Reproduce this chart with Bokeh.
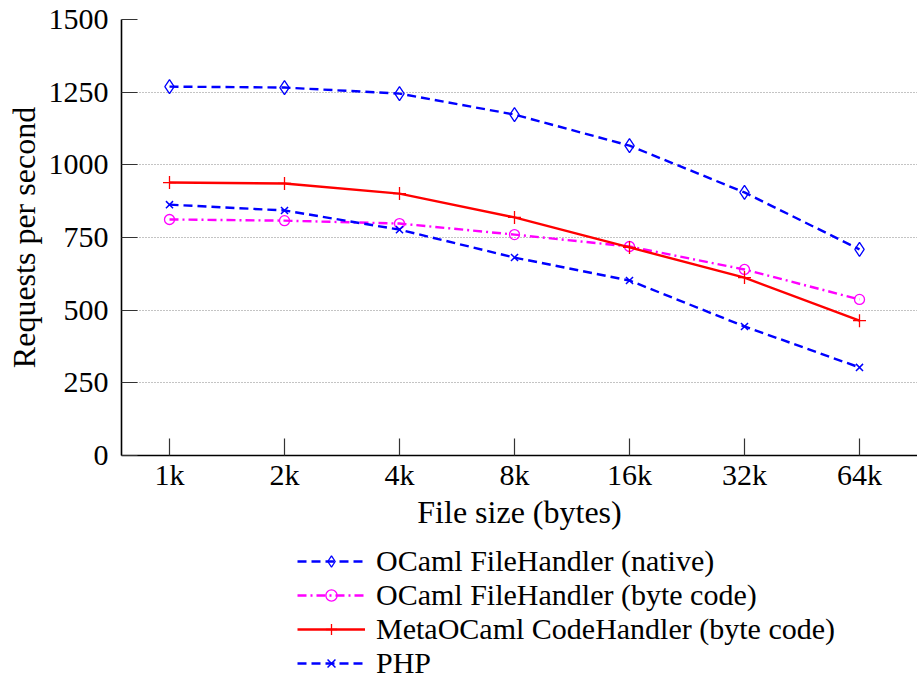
from bokeh.plotting import figure
from bokeh.models import Range1d, FixedTicker, Legend, LegendItem
from bokeh.layouts import column
from bokeh.embed import file_html
from bokeh.resources import INLINE

# ---- data ----
sizes = ["1k", "2k", "4k", "8k", "16k", "32k", "64k"]
ocaml_native = [1269, 1266, 1245, 1173, 1066, 905, 709]
ocaml_byte = [812, 808, 798, 760, 719, 640, 537]
metaocaml_byte = [939, 936, 901, 819, 716, 612, 464]
php = [863, 843, 777, 681, 602, 444, 303]
y_ticks = [0, 250, 500, 750, 1000, 1250, 1500]

labels = ["OCaml FileHandler (native)", "OCaml FileHandler (byte code)",
          "MetaOCaml CodeHandler (byte code)", "PHP"]

FONT = "Liberation Serif"
xs = list(range(len(sizes)))

W = 917
H1 = 535
left_b, top_b = 121, 19
frame_h = 436
step = 115.0
x0 = -48.0 / step
x1 = x0 + (W - left_b) / step

p = figure(width=W, height=H1, output_backend="svg", toolbar_location=None,
           x_range=Range1d(x0, x1), y_range=Range1d(0, 1500),
           min_border_left=left_b, min_border_right=0, min_border_top=top_b,
           min_border_bottom=H1 - top_b - frame_h)
p.outline_line_color = None
p.background_fill_color = "white"

# grid
p.xgrid.grid_line_color = None
p.ygrid.ticker = FixedTicker(ticks=y_ticks)
p.ygrid.grid_line_color = "#888888"
p.ygrid.grid_line_dash = "1 2"
p.ygrid.grid_line_width = 1

# axes
p.yaxis.ticker = FixedTicker(ticks=y_ticks)
p.xaxis.ticker = FixedTicker(ticks=xs)
p.xaxis.major_label_overrides = {i: s for i, s in enumerate(sizes)}
for ax in (p.xaxis[0], p.yaxis[0]):
    ax.axis_line_color = "black"
    ax.axis_line_width = 1.6
    ax.major_tick_out = 0
    ax.minor_tick_line_color = None
    ax.major_tick_line_color = "#333333"
    ax.major_tick_line_width = 1.2
    ax.major_label_text_font = FONT
    ax.major_label_text_font_size = "30px"
    ax.major_label_text_color = "black"
    ax.axis_label_text_font = FONT
    ax.axis_label_text_font_size = "32px"
    ax.axis_label_text_font_style = "normal"
    ax.axis_label_text_color = "black"
p.yaxis.major_tick_in = 16
p.xaxis.major_tick_in = 17
p.yaxis.major_label_standoff = 13
p.xaxis.major_label_standoff = 2
p.yaxis.axis_label = "Requests per second"
p.xaxis.axis_label = "File size (bytes)"
p.yaxis.axis_label_standoff = 4
p.xaxis.axis_label_standoff = 0

# series
styles = [
    dict(color="#0000ff", dash="9 5", marker="diamond", size=14, lw=1.3),
    dict(color="#ff00ff", dash="9 4 2 4", marker="circle", size=10, lw=1.3),
    dict(color="#ff0000", dash="solid", marker="cross", size=13, lw=1.3),
    dict(color="#0000ff", dash="9 5", marker="x", size=10, lw=1.5),
]
series = [ocaml_native, ocaml_byte, metaocaml_byte, php]

for ys, st in zip(series, styles):
    p.line(xs, ys, color=st["color"], line_width=2.4, line_dash=st["dash"])
    p.scatter(xs, ys, marker=st["marker"], size=st["size"], fill_color=None,
              line_color=st["color"], line_width=st["lw"])

# legend figure (renderers hold no drawable points; they only feed the legend)
H2 = 680 - H1
lf = figure(width=W, height=H2, output_backend="svg", toolbar_location=None,
            x_range=Range1d(0, 1), y_range=Range1d(0, 1),
            x_axis_location=None, y_axis_location=None, min_border=0)
lf.outline_line_color = None
lf.grid.visible = False

nan = float("nan")
items = []
for lab, st in zip(labels, styles):
    lr = lf.line([nan], [nan], color=st["color"], line_width=2.4, line_dash=st["dash"])
    mr = lf.scatter([nan], [nan], marker=st["marker"], size=st["size"], fill_color=None,
                    line_color=st["color"], line_width=st["lw"])
    items.append(LegendItem(label=lab, renderers=[lr, mr]))

lg = Legend(items=items)
lg.location = (176, 0)
lg.padding = 0
lg.margin = 0
lg.spacing = 0
lg.border_line_color = None
lg.background_fill_alpha = 0
lg.glyph_width = 68
lg.glyph_height = 28
lg.label_height = 28
lg.label_standoff = 11
lg.label_text_font = FONT
lg.label_text_font_size = "30px"
lg.label_text_color = "black"
lf.add_layout(lg, "center")

layout = column(p, lf, spacing=0)
open("out.html", "w").write(file_html(layout, INLINE))
